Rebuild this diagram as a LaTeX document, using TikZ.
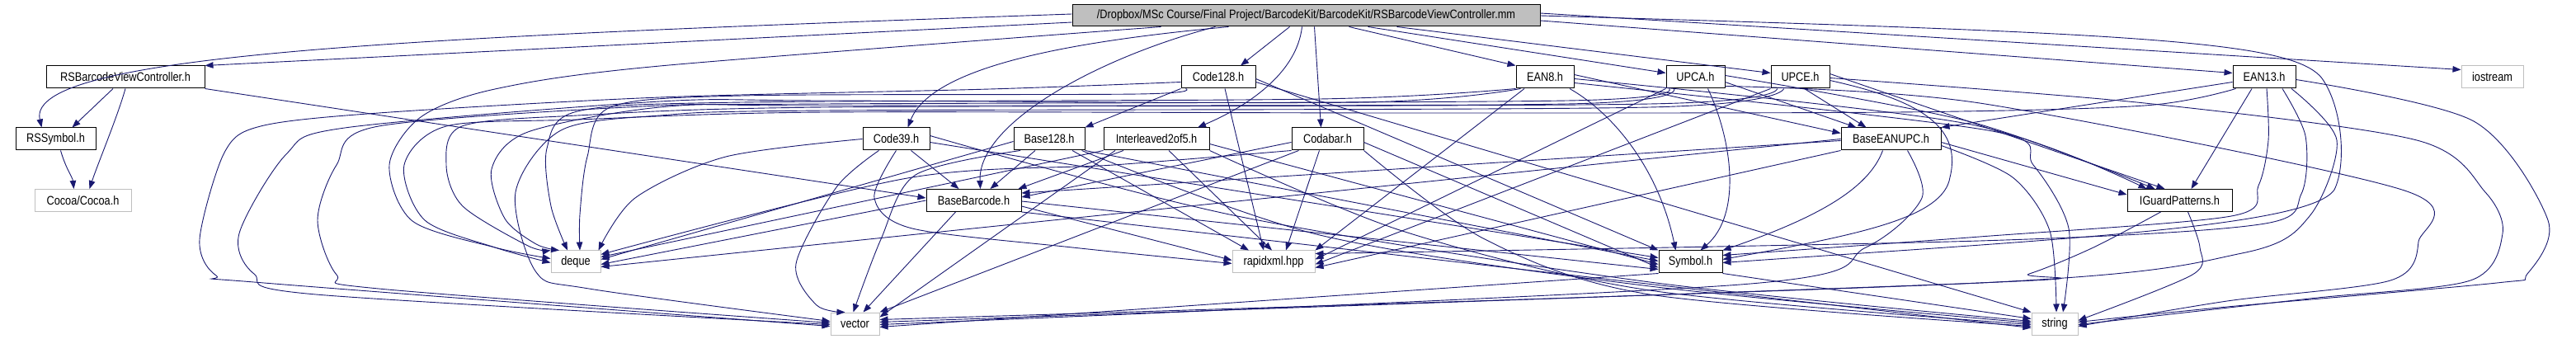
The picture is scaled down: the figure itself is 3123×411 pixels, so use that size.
\documentclass[tikz,border=0pt]{standalone}
\usepackage{fontspec}
\setmainfont{Liberation Sans}[FakeStretch=0.85]
\usepackage{xcolor}
\usepackage{tikz}
\usetikzlibrary{arrows.meta}

\definecolor{edgeblue}{HTML}{191970}
\definecolor{boxgray}{HTML}{BFBFBF}
\tikzset{
  hdr/.style={draw=black, line width=1pt, minimum height=27pt, inner sep=0pt, font=\fontsize{15}{18}\selectfont},
  syshdr/.style={hdr, draw=boxgray},
  mainfile/.style={hdr, fill=boxgray, minimum height=26pt},
  dep/.style={draw=edgeblue, line width=0.9pt, -{Triangle[length=10pt,width=7.5pt]}}
}

\begin{document}
\begin{tikzpicture}[x=1pt, y=-1pt]
  \useasboundingbox (0,0) rectangle (3123,411);

  % Files
  \node[mainfile, minimum width=567pt] (main) at (1583.5,19) {/Dropbox/MSc Course/Final Project/BarcodeKit/BarcodeKit/RSBarcodeViewController.mm};

  \node[hdr, minimum width=192pt] (rvc) at (152,93.5) {RSBarcodeViewController.h};
  \node[hdr, minimum width=90pt] (c128) at (1477,93.5) {Code128.h};
  \node[hdr, minimum width=70pt] (ean8) at (1873,93.5) {EAN8.h};
  \node[hdr, minimum width=71pt] (upca) at (2055.5,93.5) {UPCA.h};
  \node[hdr, minimum width=71pt] (upce) at (2182.5,93.5) {UPCE.h};
  \node[hdr, minimum width=76pt] (ean13) at (2745,93.5) {EAN13.h};
  \node[syshdr, minimum width=75pt] (iostr) at (3021.5,93.5) {iostream};

  \node[hdr, minimum width=97pt] (rssym) at (67.5,168.5) {RSSymbol.h};
  \node[hdr, minimum width=81pt] (c39) at (1086.5,168.5) {Code39.h};
  \node[hdr, minimum width=86pt] (b128) at (1272,168.5) {Base128.h};
  \node[hdr, minimum width=128pt] (i2of5) at (1402,168.5) {Interleaved2of5.h};
  \node[hdr, minimum width=87pt] (codabar) at (1609.5,168.5) {Codabar.h};
  \node[hdr, minimum width=121pt] (beanupc) at (2292.5,168.5) {BaseEANUPC.h};

  \node[syshdr, minimum width=117pt] (cocoa) at (100.5,243) {Cocoa/Cocoa.h};
  \node[hdr, minimum width=115pt] (bbar) at (1180.5,243) {BaseBarcode.h};
  \node[hdr, minimum width=127pt] (iguard) at (2642.5,243) {IGuardPatterns.h};

  \node[syshdr, minimum width=60pt] (deque) at (698,317.5) {deque};
  \node[syshdr, minimum width=100pt] (rapid) at (1544,317.5) {rapidxml.hpp};
  \node[hdr, minimum width=77pt] (symbol) at (2049.5,317.5) {Symbol.h};

  \node[syshdr, minimum width=59pt] (vector) at (1036.5,392.5) {vector};
  \node[syshdr, minimum width=56pt] (string) at (2491,392.5) {string};

  % RSBarcodeViewController.mm
  \draw[dep] ([yshift=-8pt]main.west) -- (rvc.north east);
  \draw[dep] ([yshift=2pt]main.west) .. controls (500,45) and (30,65) .. ([xshift=-17pt]rssym.north);
  \draw[dep] ([xshift=-94pt]main.south) .. controls (1300,50) and (1130,80) .. ([xshift=14pt]c39.north);
  \draw[dep] ([xshift=-110pt]main.south) .. controls (1330,70) and (1185,150) .. ([xshift=8pt]bbar.north);
  \draw[dep] plot[smooth] coordinates {([xshift=-176pt]main.south) (800,80) (600,108) (510,142) (472,200) (500,268) (600,300) ([yshift=4pt]deque.west)};
  \draw[dep] ([xshift=-20pt]main.south) -- ([xshift=27pt]c128.north);
  \draw[dep] ([xshift=-5pt]main.south) .. controls (1572,90) and (1510,130) .. ([xshift=50pt]i2of5.north);
  \draw[dep] ([xshift=10pt]main.south) -- ([xshift=-8pt]codabar.north);
  \draw[dep] ([xshift=52pt]main.south) -- (ean8.north west);
  \draw[dep] ([xshift=75pt]main.south) -- ([yshift=5pt]upca.west);
  \draw[dep] ([xshift=110pt]main.south) -- ([yshift=5pt]upce.west);
  \draw[dep] ([yshift=-6pt]main.east) -- ([yshift=5pt]ean13.west);
  \draw[dep] ([yshift=3pt]main.east) -- ([yshift=9pt]iostr.west);
  \draw[dep] (main.east) .. controls (2600,40) and (2780,50) .. (2815,95) .. controls (2840,130) and (2845,200) .. (2830,230) .. controls (2800,275) and (2500,290) .. ([yshift=-1pt]symbol.east);

  % RSBarcodeViewController.h, RSSymbol.h
  \draw[dep] ([xshift=-15pt]rvc.south) -- ([xshift=20pt]rssym.north);
  \draw[dep] (rvc.south) .. controls (143,140) and (118,200) .. ([xshift=8pt]cocoa.north);
  \draw[dep] (rvc.south east) -- ([yshift=3pt]bbar.west);
  \draw[dep] ([xshift=6pt]rssym.south) .. controls (80,205) and (88,215) .. ([xshift=-11pt]cocoa.north);

  % Code128.h
  \draw[dep] (c128.south west) -- (b128.north east);
  \draw[dep] ([xshift=8pt]c128.south) -- ([xshift=-12pt]rapid.north);
  \draw[dep] ([yshift=-2pt]c128.east) -- (symbol.north west);
  \draw[dep] ([yshift=-6pt]c128.east) -- (string.north west);
  \draw[dep] plot[smooth] coordinates {([xshift=6pt]c128.south west) (1380,114) (900,116) (740,130) (712,190) (703,260) ([xshift=5pt]deque.north)};
  \draw[dep] plot[smooth] coordinates {([yshift=-6pt]c128.west) (1200,108) (800,118) (459,137) (316,153) (272,185) (242,290) (262,334) (320,343) ([yshift=-3pt]vector.west)};

  % EAN8.h
  \draw[dep] ([yshift=3pt]ean8.east) -- ([yshift=7pt]beanupc.west);
  \draw[dep] plot[smooth] coordinates {([yshift=-2pt]ean8.east) (2385,150) ([xshift=-40pt]iguard.north)};
  \draw[dep] ([xshift=30pt]ean8.south) .. controls (1960,140) and (2012,210) .. ([xshift=-18pt]symbol.north);
  \draw[dep] ([xshift=-25pt]ean8.south) -- (rapid.north east);
  \draw[dep] plot[smooth] coordinates {([yshift=-7pt]ean8.east) (2410,158) (2465,200) (2508,277) ([xshift=10pt]string.north)};
  \draw[dep] plot[smooth] coordinates {(ean8.south west) (1600,120) (900,124) (700,135) (663,180) (668,250) ([xshift=-10pt]deque.north)};
  \draw[dep] plot[smooth] coordinates {([xshift=6pt]ean8.south west) (1650,124) (1000,122) (800,123) (418,155) (347,187) (290,283) (308,332) (383,357) ([yshift=-1pt]vector.west)};

  % UPCA.h
  \draw[dep] ([yshift=-6pt]upca.east) -- ([xshift=-42pt]beanupc.north);
  \draw[dep] plot[smooth] coordinates {([yshift=2pt]upca.east) (2390,148) ([xshift=-30pt]iguard.north)};
  \draw[dep] ([xshift=15pt]upca.south) .. controls (2100,170) and (2112,260) .. ([xshift=12pt]symbol.north);
  \draw[dep] (upca.south west) -- ([yshift=3pt]rapid.east);
  \draw[dep] plot[smooth] coordinates {([yshift=-11pt]upca.east) (2400,125) (2912,230) (2932,293) (2898,340) (2700,365) ([yshift=-3pt]string.east)};
  \draw[dep] plot[smooth] coordinates {([xshift=4pt]upca.south west) (1900,122) (1000,126) (800,130) (640,160) (596,205) (612,265) (650,296) ([xshift=-20pt]deque.north)};
  \draw[dep] plot[smooth] coordinates {([xshift=10pt]upca.south west) (1900,126) (1000,128) (800,128) (459,153) (408,200) (385,267) (408,333) (459,350) ([yshift=1pt]vector.west)};

  % UPCE.h
  \draw[dep] ([xshift=5pt]upce.south) -- ([xshift=-30pt]beanupc.north);
  \draw[dep] ([yshift=4pt]upce.east) -- ([xshift=-18pt]iguard.north);
  \draw[dep] ([yshift=-4pt]upce.east) .. controls (2320,120) and (2380,150) .. (2364,215) .. controls (2356,265) and (2250,285) .. ([yshift=3pt]symbol.east);
  \draw[dep] (upce.south west) -- ([yshift=-3pt]rapid.east);
  \draw[dep] plot[smooth] coordinates {([yshift=-1pt]upce.east) (2600,125) (2930,170) (3013,233) (3034,283) (2995,340) (2800,362) ([yshift=-1pt]string.east)};
  \draw[dep] plot[smooth] coordinates {([xshift=8pt]upce.south west) (2000,126) (1000,130) (700,140) (560,153) (541,200) (561,250) (640,298) (deque.north west)};
  \draw[dep] plot[smooth] coordinates {([xshift=16pt]upce.south west) (2000,130) (1000,134) (800,140) (680,158) (625,233) (650,330) (714,350) ([yshift=3pt]vector.west)};

  % EAN13.h
  \draw[dep] ([yshift=-6pt]ean13.west) -- (beanupc.north east);
  \draw[dep] ([xshift=-15pt]ean13.south) -- ([xshift=14pt]iguard.north);
  \draw[dep] plot[smooth] coordinates {([xshift=3pt]ean13.south) (2750,170) (2738,225) (2705,262) (2400,287) ([yshift=8pt]symbol.east)};
  \draw[dep] plot[smooth] coordinates {([xshift=22pt]ean13.south) (2795,165) (2790,235) (2740,272) (2400,292) ([yshift=10pt]rapid.east)};
  \draw[dep] plot[smooth] coordinates {([xshift=33pt]ean13.south) (2833,170) (2800,262) (2718,307) (2400,343) ([yshift=5pt]vector.east)};
  \draw[dep] plot[smooth] coordinates {([yshift=-3pt]ean13.east) (2999,147) (3089,267) (3064,332) (3027,343) (2700,372) ([yshift=2pt]string.east)};
  \draw[dep] plot[smooth] coordinates {([xshift=4pt]ean13.south west) (2600,128) (2300,136) (1700,137) (1000,136) (700,145) (541,153) (490,200) (515,267) (600,300) ([yshift=-1pt]deque.west)};

  % Code39.h
  \draw[dep] ([xshift=18pt]c39.south) -- ([xshift=-18pt]bbar.north);
  \draw[dep] plot[smooth] coordinates {(c39.west) (880,190) (770,240) ([xshift=-3pt]deque.north east)};
  \draw[dep] plot[smooth] coordinates {([xshift=-21pt]c39.south) (1014,227) (965,320) (990,370) ([xshift=-12pt]vector.north)};
  \draw[dep] plot[smooth] coordinates {(c39.south) (1060,240) (1106,277) (1300,300) ([yshift=-2pt]rapid.west)};
  \draw[dep] ([yshift=-4pt]c39.east) -- ([yshift=5pt]symbol.west);
  \draw[dep] plot[smooth] coordinates {([yshift=4pt]c39.east) (1500,262) (2000,342) ([yshift=3pt]string.west)};

  % Base128.h
  \draw[dep] ([xshift=-17pt]b128.south) -- ([xshift=20pt]bbar.north);
  \draw[dep] ([yshift=-3pt]b128.west) -- ([yshift=3pt]deque.east);
  \draw[dep] plot[smooth] coordinates {([xshift=-35pt]b128.south) (1110,212) (1068,290) ([xshift=-2pt]vector.north)};
  \draw[dep] ([xshift=28pt]b128.south) -- ([xshift=-30pt]rapid.north);
  \draw[dep] (b128.south east) -- ([yshift=1pt]symbol.west);
  \draw[dep] plot[smooth] coordinates {([xshift=-4pt]b128.south east) (1600,285) (2000,347) ([yshift=1pt]string.west)};

  % Interleaved2of5.h
  \draw[dep] ([xshift=-40pt]i2of5.south) -- ([xshift=-4pt]bbar.north east);
  \draw[dep] (i2of5.south west) -- ([yshift=6pt]deque.east);
  \draw[dep] ([xshift=-50pt]i2of5.south) -- ([yshift=8pt]vector.east);
  \draw[dep] ([xshift=15pt]i2of5.south) -- ([xshift=-2pt]rapid.north);
  \draw[dep] ([yshift=-6pt]i2of5.east) -- ([yshift=-3pt]symbol.west);
  \draw[dep] plot[smooth] coordinates {(i2of5.south east) (1700,280) (2000,352) ([yshift=-1pt]string.west)};

  % Codabar.h
  \draw[dep] ([yshift=-4pt]codabar.west) -- ([yshift=4pt]bbar.east);
  \draw[dep] plot[smooth] coordinates {(codabar.south west) (1350,200) (1100,216) ([yshift=9pt]deque.east)};
  \draw[dep] ([xshift=-35pt]codabar.south) -- (vector.north east);
  \draw[dep] ([xshift=-10pt]codabar.south) -- ([xshift=15pt]rapid.north);
  \draw[dep] ([yshift=-4pt]codabar.east) -- ([yshift=-7pt]symbol.west);
  \draw[dep] plot[smooth] coordinates {(codabar.south east) (1800,290) (2000,357) ([yshift=-3pt]string.west)};

  % BaseBarcode.h
  \draw[dep] (bbar.west) -- ([yshift=-3pt]deque.east);
  \draw[dep] ([xshift=-22pt]bbar.south) -- ([xshift=10pt]vector.north);
  \draw[dep] ([yshift=-7pt]bbar.east) -- ([yshift=2pt]rapid.west);
  \draw[dep] ([yshift=-1pt]bbar.east) -- ([yshift=-9pt]symbol.west);
  \draw[dep] (bbar.south east) -- ([yshift=-5pt]string.west);

  % BaseEANUPC.h
  \draw[dep] ([yshift=-2pt]beanupc.west) -- ([yshift=9pt]bbar.east);
  \draw[dep] ([yshift=-4pt]beanupc.east) -- ([yshift=7pt]iguard.west);
  \draw[dep] ([xshift=-10pt]beanupc.south) .. controls (2265,230) and (2200,265) .. (symbol.north east);
  \draw[dep] plot[smooth] coordinates {([xshift=20pt]beanupc.south) (2330,240) (2262,300) (2110,345) ([yshift=-1pt]vector.east)};
  \draw[dep] plot[smooth] coordinates {([yshift=-8pt]beanupc.east) (2440,215) (2485,280) ([xshift=2pt]string.north)};
  \draw[dep] (beanupc.west) -- ([yshift=-6pt]deque.east);
  \draw[dep] (beanupc.south west) -- ([yshift=-7pt]rapid.east);

  % IGuardPatterns.h
  \draw[dep] plot[smooth] coordinates {([xshift=-23pt]iguard.south) (2538,300) (2460,332) (2400,343) ([yshift=2pt]vector.east)};
  \draw[dep] plot[smooth] coordinates {([xshift=10pt]iguard.south) (2667,300) (2658,333) ([yshift=4pt]string.east)};

  % Symbol.h
  \draw[dep] (symbol.south west) -- ([yshift=-4pt]vector.east);
  \draw[dep] (symbol.south east) -- ([yshift=6pt]string.west);
\end{tikzpicture}
\end{document}
